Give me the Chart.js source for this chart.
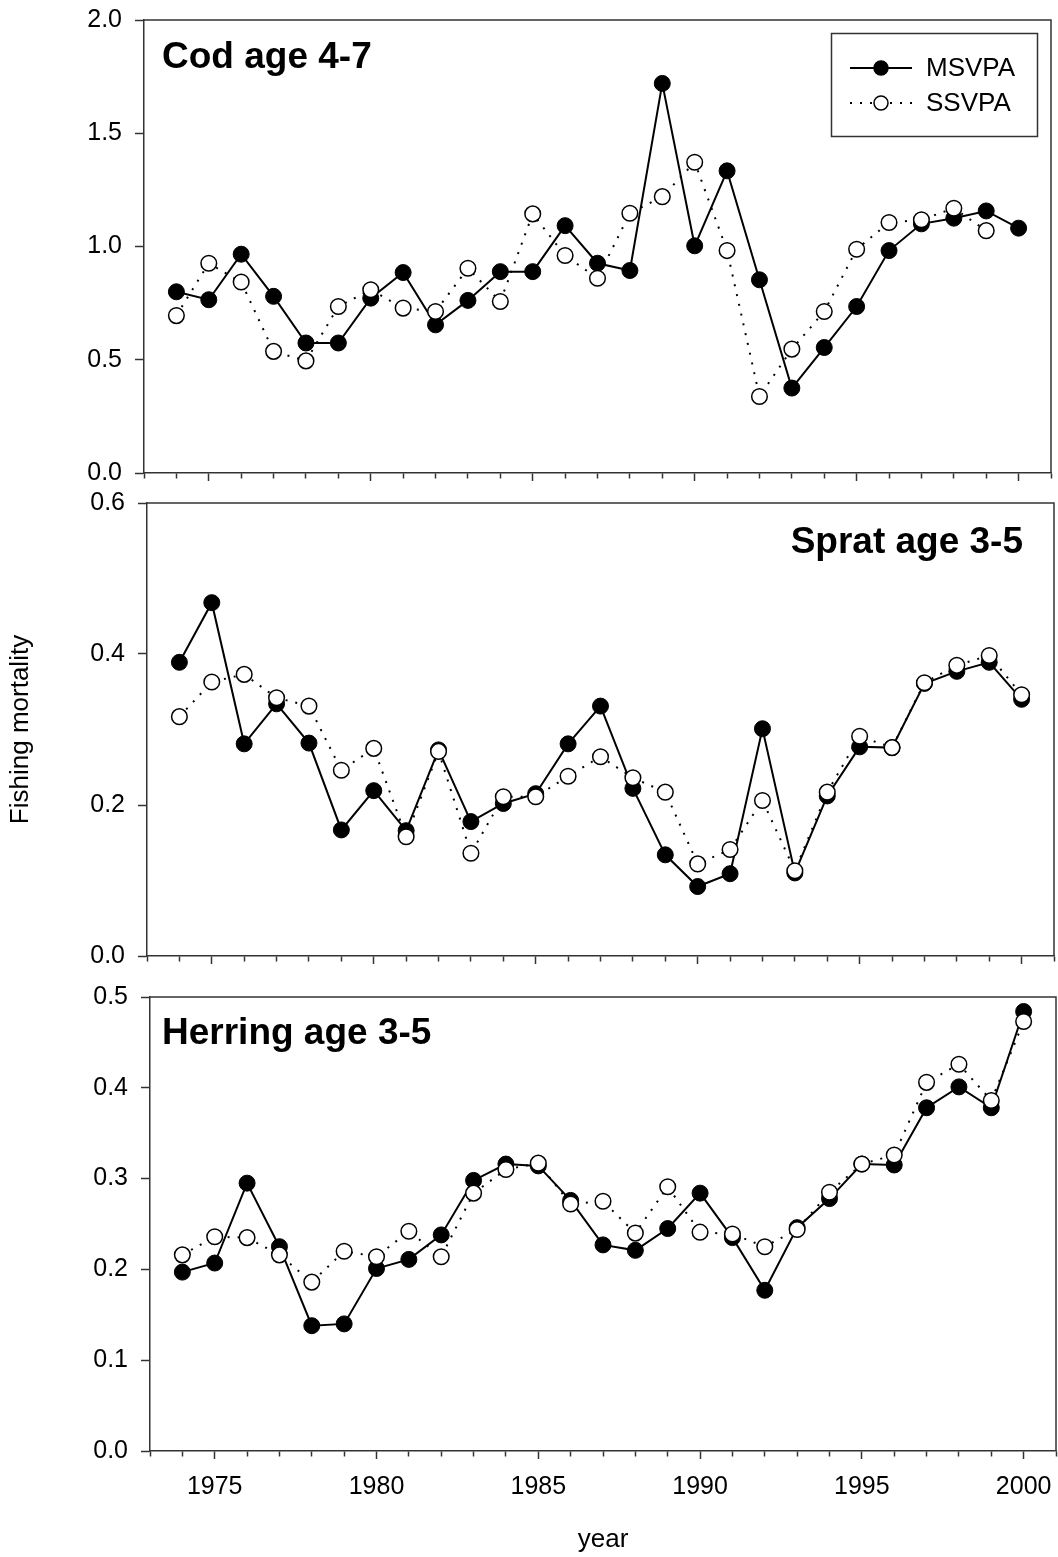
<!DOCTYPE html>
<html>
<head>
<meta charset="utf-8">
<script src="https://cdn.jsdelivr.net/npm/chart.js@4.4.1/dist/chart.umd.min.js"></script>
<style>
  html, body { margin: 0; padding: 0; background: #fff; }
  body { width: 1058px; height: 1557px; position: relative; overflow: hidden; }
  canvas { position: absolute; left: 0; }
</style>
</head>
<body>
<canvas id="cod" width="1058" height="490" style="top:0px"></canvas>
<canvas id="sprat" width="1058" height="480" style="top:490px"></canvas>
<canvas id="herring" width="1058" height="587" style="top:970px"></canvas>
<script>
// years on the x axis
const years = [1974, 1975, 1976, 1977, 1978, 1979, 1980, 1981, 1982, 1983, 1984, 1985, 1986,
    1987, 1988, 1989, 1990, 1991, 1992, 1993, 1994, 1995, 1996, 1997, 1998, 1999, 2000];
const yearLabels = [1975, 1980, 1985, 1990, 1995, 2000];

// Cod age 4-7
const codMSVPA = [0.80, 0.765, 0.966, 0.78, 0.574, 0.574, 0.772, 0.885, 0.654, 0.762, 0.889, 0.889, 1.092,
    0.926, 0.894, 1.72, 1.003, 1.334, 0.853, 0.375, 0.554, 0.735, 0.982, 1.10, 1.125, 1.157, 1.081];
const codSSVPA = [0.695, 0.926, 0.843, 0.537, 0.495, 0.735, 0.809, 0.728, 0.713, 0.904, 0.757, 1.144, 0.96,
    0.86, 1.147, 1.22, 1.372, 0.982, 0.338, 0.547, 0.713, 0.988, 1.106, 1.118, 1.169, 1.07, null];
const codTicks = [0, 0.5, 1.0, 1.5, 2.0];

// Sprat age 3-5
const spratMSVPA = [0.389, 0.468, 0.281, 0.334, 0.282, 0.167, 0.219, 0.166, 0.273, 0.178, 0.202, 0.215, 0.281,
    0.331, 0.222, 0.134, 0.092, 0.109, 0.301, 0.110, 0.212, 0.277, 0.276, 0.361, 0.377, 0.389, 0.340];
const spratSSVPA = [0.317, 0.363, 0.373, 0.342, 0.331, 0.246, 0.275, 0.158, 0.271, 0.136, 0.211, 0.211, 0.238,
    0.264, 0.236, 0.217, 0.122, 0.141, 0.206, 0.113, 0.217, 0.291, 0.276, 0.362, 0.385, 0.398, 0.346];
const spratTicks = [0, 0.2, 0.4, 0.6];

// Herring age 3-5
const herringMSVPA = [0.197, 0.207, 0.295, 0.225, 0.138, 0.140, 0.201, 0.211, 0.238, 0.298, 0.316, 0.314, 0.276,
    0.227, 0.221, 0.245, 0.284, 0.235, 0.177, 0.246, 0.278, 0.316, 0.315, 0.378, 0.401, 0.378, 0.484];
const herringSSVPA = [0.216, 0.236, 0.235, 0.216, 0.186, 0.220, 0.214, 0.242, 0.214, 0.284, 0.310, 0.317, 0.272,
    0.275, 0.240, 0.291, 0.241, 0.239, 0.225, 0.244, 0.285, 0.316, 0.326, 0.406, 0.426, 0.386, 0.473];
const herringTicks = [0, 0.1, 0.2, 0.3, 0.4, 0.5];

const FONT = "'Liberation Sans', Arial, Helvetica, sans-serif";
Chart.defaults.font.family = FONT;
Chart.defaults.color = '#000';

const AXIS = '#333';

// tick positions: every year, axis ends included
const xTickValues = [years[0] - 1, ...years, years[years.length - 1] + 1];

// draws the frame, panel title and (cod only) the legend
const panelDecor = {
    id: 'panelDecor',
    afterDraw(chart, args, o) {
        const { ctx, chartArea: a } = chart;
        ctx.save();
        ctx.strokeStyle = AXIS;
        ctx.lineWidth = 1.5;
        ctx.beginPath();
        ctx.moveTo(a.left, a.top);
        ctx.lineTo(a.right, a.top);
        ctx.lineTo(a.right, a.bottom);
        ctx.stroke();

        ctx.fillStyle = '#000';
        ctx.font = 'bold 37px ' + FONT;
        ctx.textAlign = o.align;
        ctx.textBaseline = 'alphabetic';
        ctx.fillText(o.title, o.x, o.y);

        if (o.legend) {
            ctx.lineWidth = 1.5;
            ctx.strokeStyle = AXIS;
            ctx.strokeRect(831.5, 33.5, 206, 103);
            const order = [1, 0];
            order.forEach((di, row) => {
                const ds = chart.data.datasets[di];
                const y = 68 + row * 35;
                ctx.save();
                ctx.strokeStyle = '#000';
                ctx.lineWidth = ds.borderWidth;
                ctx.setLineDash(ds.borderDash || []);
                ctx.beginPath();
                ctx.moveTo(850, y);
                ctx.lineTo(912, y);
                ctx.stroke();
                ctx.restore();
                ctx.beginPath();
                ctx.arc(881, y, 7, 0, Math.PI * 2);
                ctx.fillStyle = ds.pointBackgroundColor;
                ctx.fill();
                ctx.lineWidth = 1.5;
                ctx.strokeStyle = '#000';
                ctx.stroke();
                ctx.fillStyle = '#000';
                ctx.font = '26px ' + FONT;
                ctx.textAlign = 'left';
                ctx.textBaseline = 'middle';
                ctx.fillText(ds.label, 926, y + 1);
            });
        }
        ctx.restore();
    }
};

function makePanel(id, ms, ss, yTicks, p) {
    return new Chart(document.getElementById(id), {
        type: 'line',
        data: {
            labels: years,
            datasets: [{
                label: 'SSVPA',
                data: ss,
                order: 0,
                borderColor: '#000',
                borderWidth: 2,
                borderDash: [2, 8],
                pointRadius: 7.8,
                pointBorderWidth: 1.5,
                pointBackgroundColor: '#fff',
                pointBorderColor: '#000',
                tension: 0
            }, {
                label: 'MSVPA',
                data: ms,
                order: 1,
                borderColor: '#000',
                borderWidth: 2,
                pointRadius: 8,
                pointBorderWidth: 1,
                pointBackgroundColor: '#000',
                pointBorderColor: '#000',
                tension: 0
            }]
        },
        options: {
            responsive: false,
            animation: false,
            layout: { autoPadding: false, padding: { top: p.top, right: p.right, left: 0, bottom: 0 } },
            plugins: {
                legend: { display: false },
                tooltip: { enabled: false },
                panelDecor: p.decor
            },
            scales: {
                x: {
                    type: 'linear',
                    min: years[0] - 1,
                    max: years[years.length - 1] + 1,
                    afterBuildTicks: s => { s.ticks = xTickValues.map(v => ({ value: v })); },
                    afterFit: s => {
                        s.height = p.xh;
                        s.paddingLeft = 0;
                        s.paddingRight = 0;
                    },
                    ticks: {
                        autoSkip: false,
                        maxRotation: 0,
                        padding: 13,
                        font: { size: 25 },
                        color: '#000',
                        callback: v => (p.xLabels && yearLabels.includes(v)) ? String(v) : ''
                    },
                    grid: {
                        drawOnChartArea: false,
                        tickLength: 8,
                        tickColor: AXIS,
                        tickWidth: 1.5,
                        tickBorderDash: c => (c.tick && yearLabels.includes(c.tick.value)) ? [] : [5, 30]
                    },
                    border: { color: AXIS, width: 1.5 },
                    title: p.xTitle ? {
                        display: true, text: 'year', color: '#000',
                        font: { size: 26 }, padding: { top: 0, bottom: 2 }
                    } : { display: false }
                },
                y: {
                    min: yTicks[0],
                    max: yTicks[yTicks.length - 1],
                    afterBuildTicks: s => { s.ticks = yTicks.map(v => ({ value: v })); },
                    afterFit: s => {
                        s.width = p.left;
                        s.paddingTop = 0;
                        s.paddingBottom = 0;
                    },
                    ticks: {
                        padding: 13,
                        font: { size: 25 },
                        color: '#000',
                        callback: v => Number(v).toFixed(1)
                    },
                    grid: { drawOnChartArea: false, tickLength: 9, tickColor: AXIS, tickWidth: 1.5 },
                    border: { color: AXIS, width: 1.5 },
                    title: p.yTitle ? {
                        display: true, text: 'Fishing mortality', color: '#000',
                        font: { size: 26 }, padding: { top: 5, bottom: 0 }
                    } : { display: false }
                }
            }
        },
        plugins: [panelDecor]
    });
}

// data x values are the years (linear x axis)
const pts = arr => arr.map((v, i) => ({ x: years[i], y: v }));

makePanel('cod', pts(codMSVPA), pts(codSSVPA), codTicks, {
    top: 20, right: 7, left: 144, xh: 17, xLabels: false,
    decor: { title: 'Cod age 4-7', x: 162, y: 68, align: 'left', legend: true }
});
makePanel('sprat', pts(spratMSVPA), pts(spratSSVPA), spratTicks, {
    top: 13, right: 4, left: 147, xh: 14, xLabels: false, yTitle: true,
    decor: { title: 'Sprat age 3-5', x: 1023, y: 63, align: 'right', legend: false }
});
makePanel('herring', pts(herringMSVPA), pts(herringSSVPA), herringTicks, {
    top: 27, right: 2, left: 150, xh: 106, xLabels: true, xTitle: true,
    decor: { title: 'Herring age 3-5', x: 162, y: 74, align: 'left', legend: false }
});
</script>
</body>
</html>
